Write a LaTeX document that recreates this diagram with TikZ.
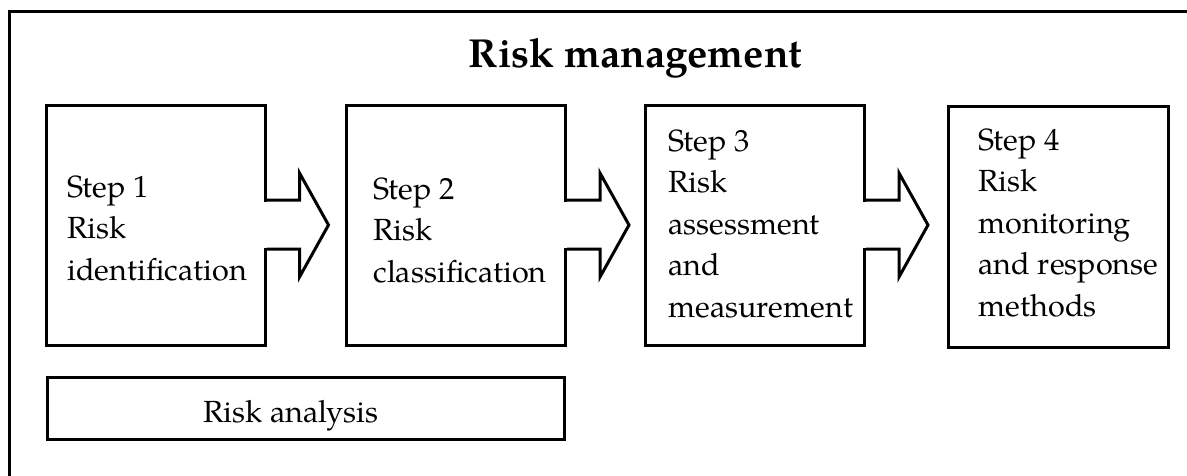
\documentclass[tikz,border=0pt]{standalone}
\usepackage{fontspec}
\setmainfont{TeX Gyre Pagella}
\usetikzlibrary{calc}
\newcommand{\steptextfont}{\fontsize{30.6}{41.5}\selectfont}
\newcommand{\titletextfont}{\fontsize{40.5}{45}\selectfont\bfseries}
\begin{document}
\begin{tikzpicture}[x=1pt,y=-1pt,line width=3pt,line join=miter,
  stepbox/.style={draw, rectangle, minimum width=219pt, minimum height=240pt, inner sep=0pt},
  steptext/.style={anchor=base west, align=left, inner sep=0pt, font=\steptextfont},
  flowarrow/.style={draw, fill=white}]
\useasboundingbox (0,0) rectangle (1187,475);
% outer frame (only top and left edges visible)
\coordinate (frameTL) at (9.5,11.5);
\coordinate (frameTR) at (1190,11.5);
\coordinate (frameBL) at (9.5,478);
\draw (frameTR) -- (frameTL) -- (frameBL);
% title
\node[anchor=base, inner sep=0pt, font=\titletextfont] (title) at (635.5,67) {Risk management};
% step boxes
\node[stepbox] (b1) at (155.5,225) {};
\node[stepbox] (b2) at (456,225) {};
\node[stepbox] (b3) at (755,225) {};
\node[stepbox, minimum width=220pt, minimum height=241pt] (b4) at (1058,226.5) {};
% arrows
\foreach \b in {b1,b2,b3}{
  \fill[white] ($(\b.east)+(-3,-23.5)$) rectangle ($(\b.east)+(3,22.5)$);
  \draw ($(\b.east)+(0,-25)$) -- ($(\b.east)+(33,-25)$) -- ($(\b.east)+(33,-52)$)
     -- ($(\b.east)+(62,0)$) -- ($(\b.east)+(33,52)$) -- ($(\b.east)+(33,24)$)
     -- ($(\b.east)+(0,24)$);
}
% step texts (anchored at the baseline of the last line)
\node[steptext] (t1) at (66,280) {Step 1\\Risk\\identification};
\node[steptext] (t2) at (372,282) {Step 2\\Risk\\classification};
\node[steptext] (t3) at (667,317) {Step 3\\Risk\\assessment\\and\\measurement};
\node[steptext] (t4) at (977,316) {Step 4\\Risk\\monitoring\\and response\\methods};
% risk analysis bar
\node[draw, rectangle, minimum width=517pt, minimum height=62pt, inner sep=0pt] (ra) at (305.5,408) {};
\node[anchor=base, inner sep=0pt, font=\steptextfont] (ratext) at (291,422) {Risk analysis};
\end{tikzpicture}
\end{document}
